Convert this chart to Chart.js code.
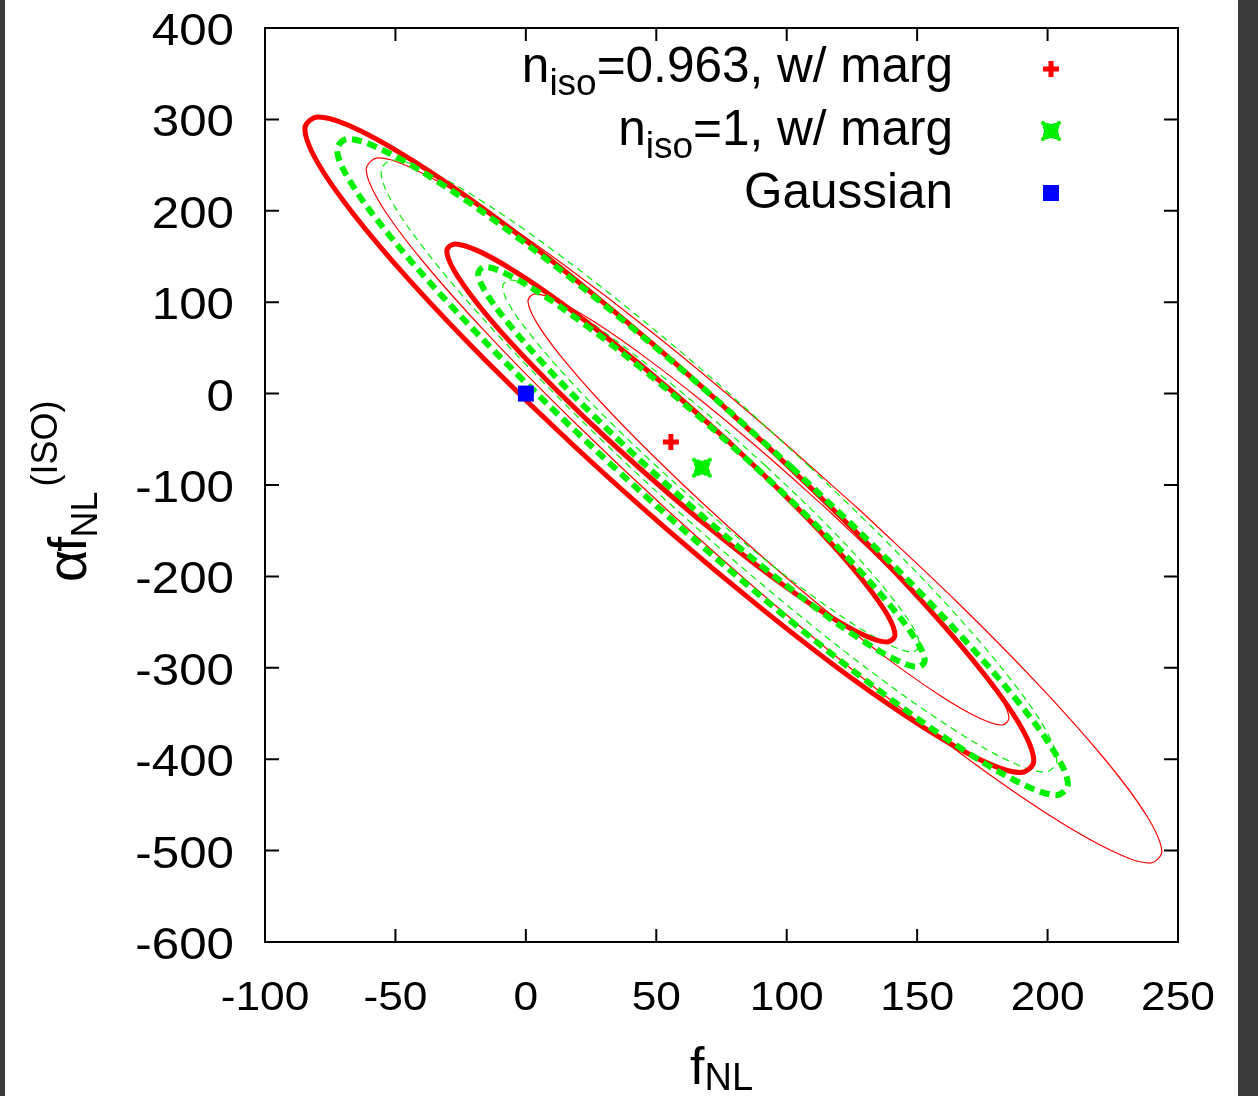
<!DOCTYPE html>
<html>
<head>
<meta charset="utf-8">
<script src="https://cdn.jsdelivr.net/npm/chart.js@4.4.0/dist/chart.umd.min.js"></script>
<style>
  html, body { margin: 0; padding: 0; background: #fff; }
  #wrap { width: 1258px; height: 1096px; position: relative; }
</style>
</head>
<body>
<div id="wrap"><canvas id="c"></canvas></div>
<script>
// axis ticks
const xTicks = [-100, -50, 0, 50, 100, 150, 200, 250];
const yTicks = [-600, -500, -400, -300, -200, -100, 0, 100, 200, 300, 400];

// best-fit points
const redCenter = [55.6, -53];
const greenCenter = [67.5, -81];
const gaussianPoint = [0, 0];

// contours (f_NL, alpha f_NL^ISO)
const redThickOuter = [
  [92, -56], [125.6, -148.8], [154.4, -235.3], [176.4, -309.6], [190.2, -366.6], [194.7, -402.4],
  [189.7, -414.6], [175.5, -402.4], [153.2, -366.6], [124.0, -309.6], [90.4, -235.3], [54.2, -148.8],
  [18, -56], [-15.6, 36.8], [-44.4, 123.3], [-66.4, 197.6], [-80.2, 254.6], [-84.7, 290.4],
  [-79.7, 302.6], [-65.5, 290.4], [-43.2, 254.6], [-14.0, 197.6], [19.6, 123.3], [55.8, 36.8], [92, -56]
];
const redThickInner = [
  [78.3, -54], [98.9, -110.4], [116.7, -162.9], [130.2, -208.0], [138.7, -242.6], [141.5, -264.4],
  [138.4, -271.8], [129.7, -264.4], [115.9, -242.6], [98.0, -208.0], [77.3, -162.9], [55.1, -110.4],
  [32.9, -54], [12.3, 2.4], [-5.5, 54.9], [-19.0, 100.0], [-27.5, 134.6], [-30.3, 156.4],
  [-27.2, 163.8], [-18.5, 156.4], [-4.7, 134.6], [13.2, 100.0], [33.9, 54.9], [56.1, 2.4], [78.3, -54]
];
const greenThickOuter = [
  [101.7, -80.3], [135.7, -173.2], [165.1, -259.8], [187.8, -334.1], [202.4, -391.1], [207.8, -427.0],
  [203.6, -439.2], [190.2, -427.0], [168.4, -391.1], [139.8, -334.1], [106.3, -259.8], [70.1, -173.2],
  [33.7, -80.3], [-0.3, 12.6], [-29.7, 99.2], [-52.4, 173.5], [-67.0, 230.5], [-72.4, 266.4],
  [-68.2, 278.6], [-54.8, 266.4], [-33.0, 230.5], [-4.4, 173.5], [29.1, 99.2], [65.3, 12.6], [101.7, -80.3]
];
const greenThickInner = [
  [88.0, -80.3], [108.8, -136.9], [126.7, -189.7], [140.6, -235.0], [149.6, -269.8], [152.9, -291.6],
  [150.3, -299.1], [142.1, -291.6], [128.8, -269.8], [111.4, -235.0], [90.9, -189.7], [68.8, -136.9],
  [46.6, -80.3], [25.8, -23.7], [7.9, 29.1], [-6.0, 74.4], [-15.0, 109.2], [-18.3, 131.0],
  [-15.7, 138.5], [-7.5, 131.0], [5.8, 109.2], [23.2, 74.4], [43.7, 29.1], [65.8, -23.7], [88.0, -80.3]
];
const redThinOuter = [
  [128.2, -127.9], [165.2, -227.7], [197.3, -320.8], [222.1, -400.6], [238.0, -461.9], [243.8, -500.5],
  [239.3, -513.6], [224.8, -500.5], [201.0, -461.9], [169.9, -400.6], [133.3, -320.8], [94.0, -227.7],
  [54.4, -127.9], [17.4, -28.1], [-14.7, 65.0], [-39.5, 144.8], [-55.4, 206.1], [-61.2, 244.7],
  [-56.7, 257.8], [-42.2, 244.7], [-18.4, 206.1], [12.7, 144.8], [49.3, 65.0], [88.6, -28.1], [128.2, -127.9]
];
const redThinInner = [
  [115.6, -126.8], [138.0, -187.8], [157.4, -244.7], [172.3, -293.5], [181.8, -331.0], [185.2, -354.6],
  [182.5, -362.6], [173.6, -354.6], [159.2, -331.0], [140.3, -293.5], [118.2, -244.7], [94.4, -187.8],
  [70.4, -126.8], [48.0, -65.8], [28.6, -8.9], [13.7, 39.9], [4.2, 77.4], [0.8, 101.0],
  [3.5, 109.0], [12.4, 101.0], [26.8, 77.4], [45.7, 39.9], [67.8, -8.9], [91.6, -65.8], [115.6, -126.8]
];
const greenThinOuter = [
  [108.5, -79.2], [139.6, -165.8], [166.4, -246.6], [186.7, -315.9], [199.5, -369.1], [203.5, -402.6],
  [198.9, -414.0], [185.7, -402.6], [164.9, -369.1], [137.9, -315.9], [106.6, -246.6], [73.0, -165.8],
  [39.5, -79.2], [8.4, 7.4], [-18.4, 88.2], [-38.7, 157.5], [-51.5, 210.7], [-55.5, 244.2],
  [-50.9, 255.6], [-37.7, 244.2], [-16.9, 210.7], [10.1, 157.5], [41.4, 88.2], [75.0, 7.4], [108.5, -79.2]
];
const greenThinInner = [
  [92.0, -79.2], [111.3, -131.9], [127.8, -181.0], [140.3, -223.1], [148.3, -255.4], [150.9, -275.8],
  [148.1, -282.7], [140.1, -275.8], [127.3, -255.4], [110.7, -223.1], [91.4, -181.0], [70.7, -131.9],
  [50.0, -79.2], [30.7, -26.5], [14.2, 22.6], [1.7, 64.7], [-6.3, 97.0], [-8.9, 117.4],
  [-6.1, 124.3], [1.9, 117.4], [14.7, 97.0], [31.3, 64.7], [50.6, 22.6], [71.3, -26.5], [92.0, -79.2]
];

const FONT = '"Liberation Sans", Arial, Helvetica, sans-serif';
const RED = '#ff0000';
const GREEN = '#00f000';
const BLUE = '#0000ff';

function blobMarker() {
  const c = document.createElement('canvas');
  c.width = c.height = 22;
  const g = c.getContext('2d');
  g.fillStyle = GREEN;
  g.strokeStyle = GREEN;
  g.fillRect(3, 3, 16, 16);
  g.lineWidth = 4;
  g.lineCap = 'round';
  g.beginPath();
  g.moveTo(3, 3); g.lineTo(19, 19);
  g.moveTo(19, 3); g.lineTo(3, 19);
  g.stroke();
  // small notches in the middle of each edge
  g.clearRect(9, 2, 4, 2);
  g.clearRect(9, 18, 4, 2);
  g.clearRect(2, 9, 2, 4);
  g.clearRect(18, 9, 2, 4);
  return c;
}
const greenBlob = blobMarker();

function contour(pts, color, width, dash, order) {
  return {
    data: pts.map(([x, y]) => ({ x, y })),
    showLine: true,
    borderColor: color,
    borderWidth: width,
    borderDash: dash,
    pointRadius: 0,
    tension: 0.35,
    fill: false,
    order
  };
}

function drawRich(ctx, parts, x, baseline, alignRight) {
  let total = 0;
  parts.forEach(p => {
    ctx.font = p.size + 'px ' + FONT;
    p.w = ctx.measureText(p.t).width;
    total += p.w;
  });
  let xx = alignRight ? x - total : x;
  ctx.textAlign = 'left';
  parts.forEach(p => {
    ctx.font = p.size + 'px ' + FONT;
    ctx.fillText(p.t, xx, baseline + (p.dy || 0));
    xx += p.w;
  });
}

const decor = {
  id: 'decor',
  beforeDraw(chart) {
    const { ctx, width, height } = chart;
    ctx.save();
    ctx.fillStyle = '#fff';
    ctx.fillRect(0, 0, width, height);
    ctx.fillStyle = '#3a3a3a';
    ctx.fillRect(0, 0, 5, height);
    ctx.fillRect(1238, 0, width - 1238, height);
    ctx.restore();
  },
  afterDraw(chart) {
    const { ctx, chartArea: a } = chart;
    const xs = chart.scales.x, ys = chart.scales.y;
    ctx.save();

    // frame + inward ticks
    ctx.strokeStyle = '#000';
    ctx.lineWidth = 2;
    ctx.strokeRect(a.left, a.top, a.right - a.left, a.bottom - a.top);
    ctx.beginPath();
    xTicks.forEach(v => {
      const px = xs.getPixelForValue(v);
      ctx.moveTo(px, a.bottom); ctx.lineTo(px, a.bottom - 13);
      ctx.moveTo(px, a.top); ctx.lineTo(px, a.top + 13);
    });
    yTicks.forEach(v => {
      const py = ys.getPixelForValue(v);
      ctx.moveTo(a.left, py); ctx.lineTo(a.left + 14, py);
      ctx.moveTo(a.right, py); ctx.lineTo(a.right - 14, py);
    });
    ctx.stroke();

    // tick labels
    ctx.fillStyle = '#000';
    ctx.textBaseline = 'alphabetic';
    ctx.font = '41px ' + FONT;
    xTicks.forEach(v => {
      ctx.save();
      ctx.translate(xs.getPixelForValue(v), 1010);
      ctx.scale(1.08, 1);
      ctx.textAlign = 'center';
      ctx.fillText(String(v), 0, 0);
      ctx.restore();
    });
    ctx.font = '44px ' + FONT;
    yTicks.forEach(v => {
      ctx.save();
      ctx.translate(234, ys.getPixelForValue(v) + 17);
      ctx.scale(1.12, 1);
      ctx.textAlign = 'right';
      ctx.fillText(String(v), 0, 0);
      ctx.restore();
    });

    // axis titles
    drawRich(ctx, [{ t: 'f', size: 52 }, { t: 'NL', size: 38, dy: 6 }], 690, 1084, false);
    ctx.save();
    ctx.translate(86, 582);
    ctx.rotate(-Math.PI / 2);
    ctx.font = '56px ' + FONT;
    const wa = ctx.measureText('\u03b1').width;
    ctx.fillText('\u03b1', 0, 0);
    ctx.font = '54px ' + FONT;
    const wf = ctx.measureText('f').width;
    ctx.fillText('f', wa - 2, 0);
    ctx.font = '36px ' + FONT;
    const wn = ctx.measureText('NL').width;
    ctx.fillText('NL', wa + wf - 3, 11);
    ctx.fillText('(ISO)', wa + wf + wn + 2, -29);
    ctx.restore();

    // legend
    drawRich(ctx, [{ t: 'n', size: 49.5 }, { t: 'iso', size: 37, dy: 13 }, { t: '=0.963, w/ marg', size: 49.5 }], 953, 82, true);
    drawRich(ctx, [{ t: 'n', size: 49.5 }, { t: 'iso', size: 37, dy: 13 }, { t: '=1, w/ marg', size: 49.5 }], 953, 145, true);
    drawRich(ctx, [{ t: 'Gaussian', size: 49.5 }], 953, 208, true);

    const lx = 1051;
    ctx.strokeStyle = RED;
    ctx.lineWidth = 5;
    ctx.beginPath();
    ctx.moveTo(lx - 8, 69); ctx.lineTo(lx + 8, 69);
    ctx.moveTo(lx, 61); ctx.lineTo(lx, 77);
    ctx.stroke();
    ctx.drawImage(greenBlob, lx - 11, 131 - 11);
    ctx.fillStyle = BLUE;
    ctx.fillRect(lx - 8, 193 - 8, 16, 16);

    ctx.restore();
  }
};

new Chart(document.getElementById('c'), {
  type: 'scatter',
  data: {
    datasets: [
      contour(redThinOuter, RED, 1.2, [], 5),
      contour(redThinInner, RED, 1.2, [], 5),
      contour(greenThinOuter, GREEN, 1.2, [7, 5], 4),
      contour(greenThinInner, GREEN, 1.2, [7, 5], 4),
      contour(redThickOuter, RED, 5, [], 3),
      contour(redThickInner, RED, 5, [], 3),
      contour(greenThickOuter, GREEN, 6, [10, 6], 2),
      contour(greenThickInner, GREEN, 6, [10, 6], 2),
      {
        data: [{ x: redCenter[0], y: redCenter[1] }],
        pointStyle: 'cross', pointRadius: 8, borderWidth: 5,
        borderColor: RED, backgroundColor: RED, order: 0
      },
      {
        data: [{ x: greenCenter[0], y: greenCenter[1] }],
        pointStyle: greenBlob, pointRadius: 10, order: 0
      },
      {
        data: [{ x: gaussianPoint[0], y: gaussianPoint[1] }],
        pointStyle: 'rect', pointRadius: 11.3, borderWidth: 0,
        borderColor: BLUE, backgroundColor: BLUE, order: 0
      }
    ]
  },
  options: {
    responsive: true,
    maintainAspectRatio: false,
    animation: false,
    events: [],
    layout: { padding: { top: 28, right: 80, left: 0, bottom: 0 } },
    plugins: { legend: { display: false }, tooltip: { enabled: false } },
    scales: {
      x: {
        type: 'linear',
        min: xTicks[0], max: xTicks[xTicks.length - 1],
        ticks: { display: false, stepSize: 50 },
        grid: { display: false },
        border: { display: false },
        afterFit(scale) { scale.height = 154; }
      },
      y: {
        type: 'linear',
        min: yTicks[0], max: yTicks[yTicks.length - 1],
        ticks: { display: false, stepSize: 100 },
        grid: { display: false },
        border: { display: false },
        afterFit(scale) { scale.width = 265; }
      }
    }
  },
  plugins: [decor]
});
</script>
</body>
</html>
